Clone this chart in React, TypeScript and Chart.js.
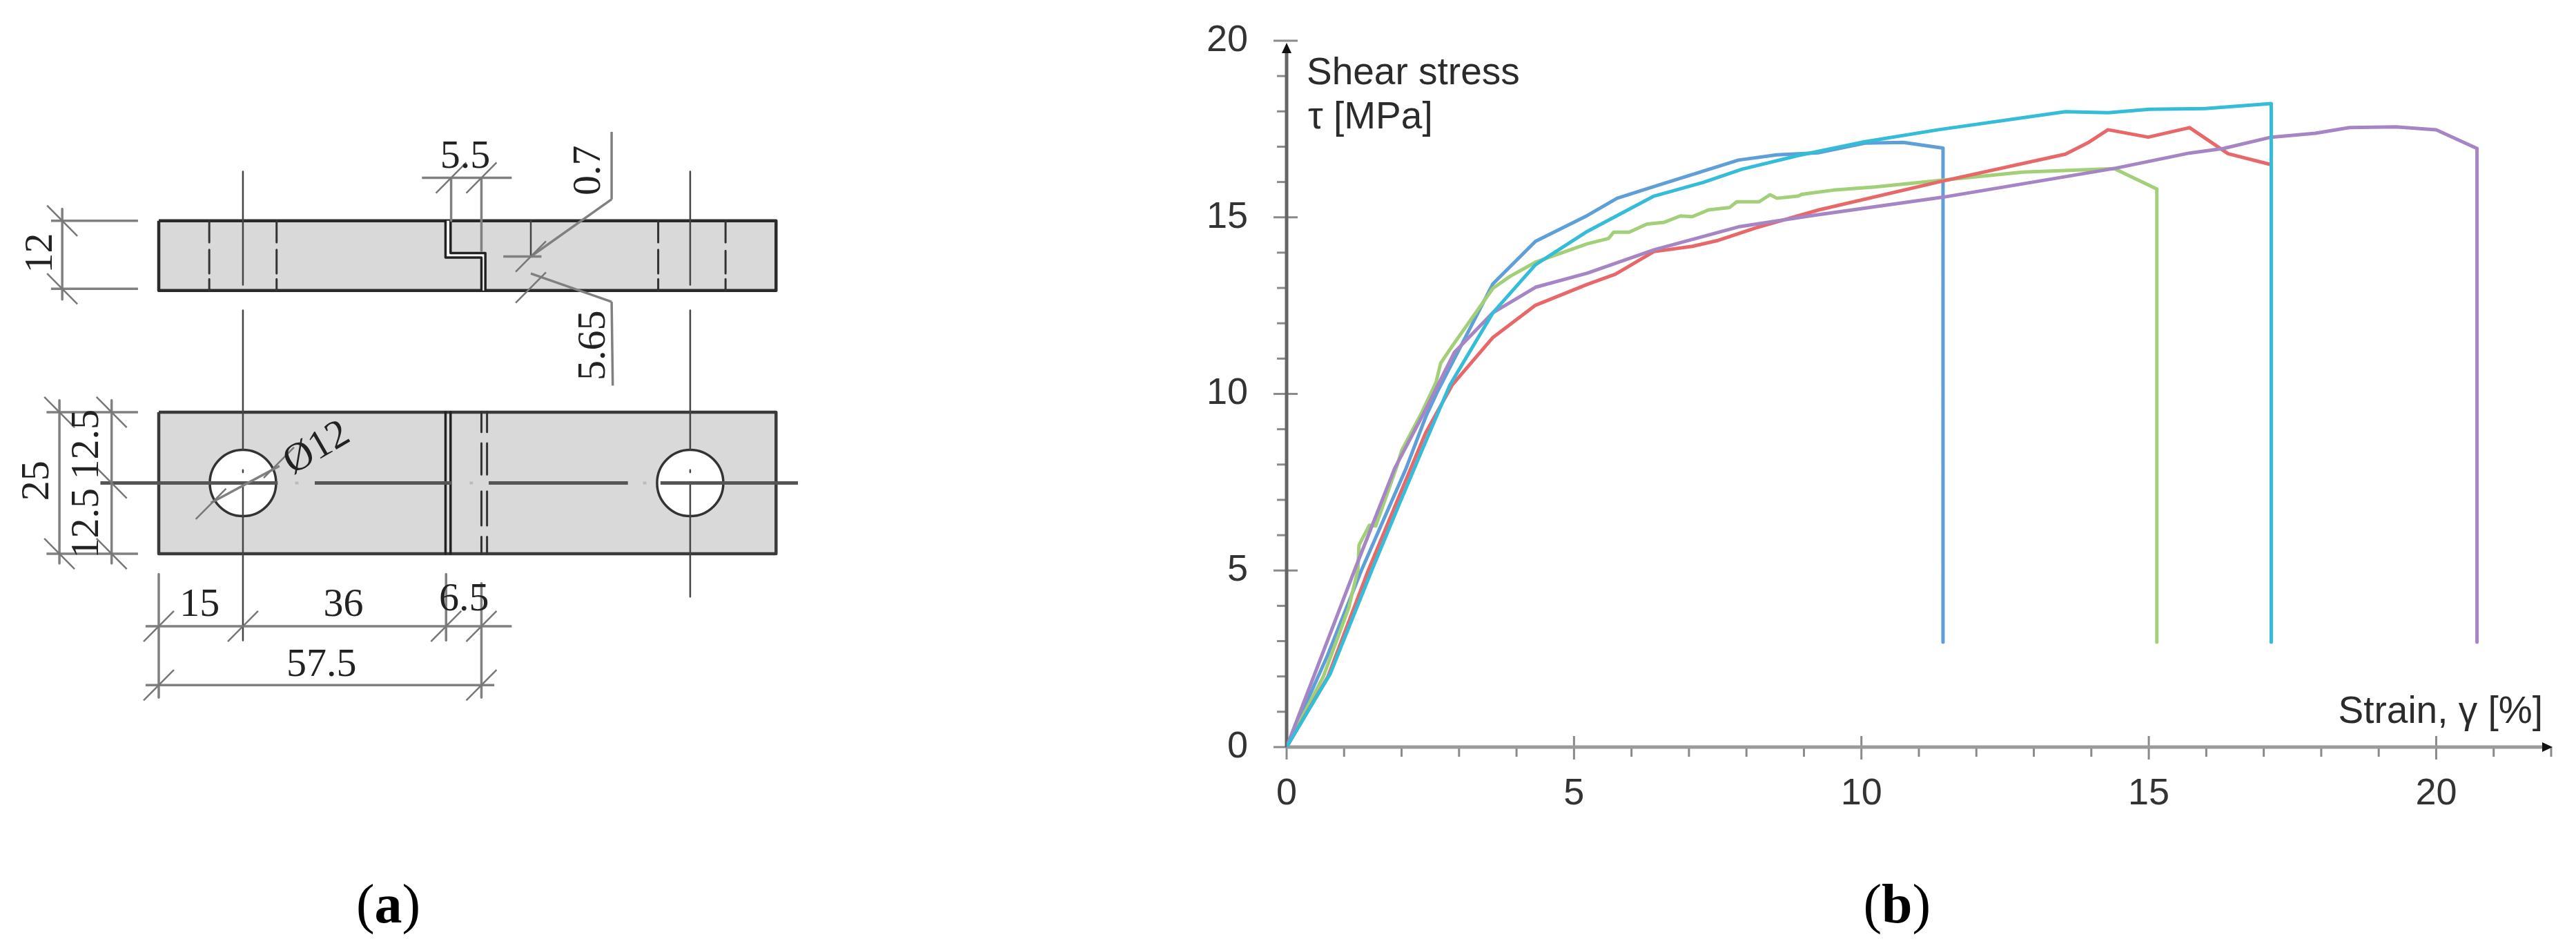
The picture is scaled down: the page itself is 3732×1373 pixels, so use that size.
import React, { useEffect, useRef } from "react";
import { Chart, registerables } from "chart.js";

Chart.register(...registerables);

// ---- Panel (b): stress-strain curves ----
const blueX = [0, 0.7, 1.3, 2.08, 2.42, 2.62, 3.59, 4.33, 5.23, 5.75, 6.45, 7.86, 8.53, 9.26, 10.06, 10.73, 11.42, 11.42];
const blueY = [0, 2.55, 5, 7.9, 9.35, 10.05, 13.12, 14.32, 15.05, 15.54, 15.9, 16.62, 16.77, 16.83, 17.1, 17.12, 16.96, 2.97];
const greenX = [0, 0.64, 1.08, 1.24, 1.26, 1.44, 1.55, 1.92, 2, 2.36, 2.6, 2.68, 2.88, 3.59, 3.89, 4.33, 5.23, 5.6, 5.69, 5.96, 6.27, 6.57, 6.85, 7.06, 7.34, 7.71, 7.83, 8.22, 8.41, 8.53, 8.9, 8.96, 9.51, 10.24, 11.4, 12.81, 14.4, 15.14, 15.14];
const greenY = [0, 2.0, 3.94, 5.02, 5.72, 6.28, 6.26, 7.96, 8.39, 9.5, 10.33, 10.87, 11.35, 12.99, 13.33, 13.73, 14.25, 14.4, 14.58, 14.58, 14.81, 14.86, 15.04, 15.02, 15.21, 15.28, 15.44, 15.44, 15.64, 15.54, 15.6, 15.65, 15.77, 15.86, 16.05, 16.28, 16.38, 15.8, 2.97];
const redX = [0, 0.72, 1.42, 1.98, 2.42, 2.88, 3.59, 4.33, 5.23, 5.72, 6.39, 7.06, 7.49, 8.16, 9.26, 11.34, 13.55, 13.94, 14.29, 14.99, 15.71, 16.38, 17.13];
const redY = [0, 2.0, 5, 7.19, 8.9, 10.25, 11.6, 12.51, 13.1, 13.39, 14.03, 14.18, 14.34, 14.7, 15.21, 16.0, 16.79, 17.11, 17.48, 17.27, 17.54, 16.8, 16.49];
const purpleX = [0, 1.18, 1.88, 2.4, 2.92, 3.59, 4.33, 5.23, 6.39, 7.86, 9.14, 11.42, 13.62, 14.42, 15.71, 16.3, 17.13, 17.9, 18.49, 19.3, 20, 20.71, 20.71];
const purpleY = [0, 5, 7.89, 9.5, 11.18, 12.3, 13.02, 13.42, 14.08, 14.73, 15.05, 15.57, 16.17, 16.39, 16.82, 16.95, 17.27, 17.38, 17.54, 17.56, 17.48, 16.95, 2.97];
const cyanX = [0, 0.76, 1.48, 1.96, 2.38, 2.84, 3.59, 4.33, 5.23, 6.39, 7.25, 7.92, 8.9, 10.06, 11.34, 13.55, 14.29, 15.01, 15.98, 17.13, 17.13];
const cyanY = [0, 2.08, 5, 6.88, 8.5, 10.25, 12.3, 13.66, 14.6, 15.6, 15.99, 16.36, 16.75, 17.14, 17.48, 17.99, 17.96, 18.06, 18.08, 18.22, 2.97];

const xLabelStep = 5;
const yLabelStep = 5;
const yAxisLines = ["Shear stress", "τ [MPa]"];
const xAxisLabel = "Strain, γ [%]";
const panelB = "b";
const panelA = "a";

// ---- Panel (a): specimen drawing, all in millimetres ----
const topPlate = [[0, 46.3], [110, 46.3], [110, 34], [0, 34], [0, 46.3]];
const bottomPlate = [[0, 12.5], [110, 12.5], [110, -12.5], [0, -12.5], [0, 12.5]];
const slitFill = [[51.1, 46.3], [52, 46.3], [52, 40.6], [58.2, 40.6], [58.2, 34], [57.5, 34], [57.5, 39.8], [51.1, 39.8], [51.1, 46.3]];
const holeCentres = [[15, 0], [94.7, 0]];

const plateEdges = [
  [51.1, 46.3, 51.1, 39.8], [51.1, 39.8, 57.5, 39.8], [57.5, 39.8, 57.5, 34],
  [52, 46.3, 52, 40.6], [52, 40.6, 58.2, 40.6], [58.2, 40.6, 58.2, 34],
  [51.1, 12.5, 51.1, -12.5], [52, 12.5, 52, -12.5],
];
const hiddenEdges = [
  [9, 46.3, 9, 42.5], [9, 41.2, 9, 37], [9, 36, 9, 34],
  [21, 46.3, 21, 42.5], [21, 41.2, 21, 37], [21, 36, 21, 34],
  [89, 46.3, 89, 42.5], [89, 41.2, 89, 37], [89, 36, 89, 34],
  [101, 46.3, 101, 42.5], [101, 41, 101, 37], [101, 36, 101, 34],
  [57.5, 12.5, 57.5, 9], [57.5, 7, 57.5, 1.5], [57.5, -1.5, 57.5, -7.5], [57.5, -9.5, 57.5, -12.5],
  [58.5, 12.5, 58.5, 9], [58.5, 7, 58.5, 1.5], [58.5, -1.5, 58.5, -7.5], [58.5, -9.5, 58.5, -12.5],
];
const centreLines = [
  [15, 55, 15, 35], [15, 30.5, 15, 6], [15, 0, 15, -27.8],
  [94.7, 55, 94.7, 35], [94.7, 30.5, 94.7, 6], [94.7, 0, 94.7, -20.1],
  [66.3, 46.3, 66.3, 40], [15, 2.3, 15, 1.9], [94.7, 2.3, 94.7, 1.9],
];
const axisLines = [
  [-10.4, 0, 21.2, 0], [27.8, 0, 52.2, 0], [58.8, 0, 83.6, 0], [89.4, 0, 113.9, 0],
];
const axisDots = [[24.3, 0, 24.9, 0], [55.4, 0, 56, 0], [86.3, 0, 86.9, 0]];
const dimensionLines = [
  [46.9, 53.9, 62.9, 53.9], [57.5, 53.9, 57.5, 46.3], [57.5, 46.3, 57.5, 41],
  [52.1, 53.9, 52.1, 46.3],
  [61.4, 40, 68.2, 40],
  [66.3, 40, 80.7, 50.1], [80.7, 50.1, 80.7, 62],
  [66.3, 37, 80.7, 32], [80.7, 32, 80.9, 17.2],
  [-2.35, -25.3, 62.9, -25.3], [0, -16.1, 0, -37.9], [51.2, -16.1, 51.2, -27.8], [57.5, -17.7, 57.5, -37.9],
  [-2.35, -35.7, 59.8, -35.7],
  [-19.2, 46.3, -3.7, 46.3], [-19.2, 34.3, -3.7, 34.3], [-17.2, 48.4, -17.2, 32.4],
  [-20, 12.5, -3.7, 12.5], [-20, -12.5, -3.7, -12.5],
  [-17.7, 14.6, -17.7, -14.2], [-8.4, 14.6, -8.4, -14.2],
  [9.3, -3.5, 21.5, 3],
];
const slashDown = [[-17.2, 46.3], [-17.2, 34.3], [-17.7, 12.5], [-8.4, 12.5], [-8.4, 0], [-17.7, -12.5], [-8.4, -12.5]];
const slashUp = [[52.1, 53.9], [57.5, 53.9], [0, -25.3], [15, -25.3], [51.2, -25.3], [57.5, -25.3], [0, -35.7], [57.5, -35.7], [66.3, 40], [66.3, 34.5], [9.3, -3.7], [21.4, 3.6]];

const drawingText = ["5.5", "0.7", "5.65", "Ø12", "15", "36", "6.5", "57.5", "12", "25", "12.5", "12.5"];
const drawingTextX = [54.6, 76.7, 77.6, 28.2, 7.3, 32.9, 54.4, 29, -20.9, -21.5, -12.7, -12.7];
const drawingTextY = [57.5, 55.2, 24.3, 6.1, -21.6, -21.6, -20.6, -32.2, 40.6, 0.4, 6.8, -7.1];
const drawingTextAngle = [0, -90, -90, -30, 0, 0, 0, 0, -90, -90, -90, -90];

const pts = (xs: number[], ys: number[]) => xs.map((x, i) => ({ x, y: ys[i] }));
const gap = { x: NaN, y: NaN };
const segs = (list: number[][]) =>
  list.flatMap(([a, b, c, d]) => [{ x: a, y: b }, { x: c, y: d }, gap]);
const poly = (list: number[][]) => list.map(([x, y]) => ({ x, y }));
const slashes = (list: number[][], sx: number) =>
  segs(list.map(([x, y]) => [x - 2.7, y + 2.7 * sx, x + 2.7, y - 2.7 * sx]));

function writeCaption(ctx: any, letter: string, cx: number, baseline: number) {
  ctx.save();
  ctx.fillStyle = "#000";
  ctx.textBaseline = "alphabetic";
  ctx.textAlign = "left";
  const reg = "80px 'Liberation Serif'";
  const bold = "bold 80px 'Liberation Serif'";
  ctx.font = reg;
  const open = ctx.measureText("(").width;
  ctx.font = bold;
  const mid = ctx.measureText(letter).width;
  let x = cx - (open * 2 + mid) / 2;
  ctx.font = reg;
  ctx.fillText("(", x, baseline);
  x += open;
  ctx.font = bold;
  ctx.fillText(letter, x, baseline);
  x += mid;
  ctx.font = reg;
  ctx.fillText(")", x, baseline);
  ctx.restore();
}

const curveAxesPlugin = {
  id: "curveAxes",
  beforeDatasetsDraw(chart: any) {
    const { ctx } = chart;
    const sx = chart.scales.x;
    const sy = chart.scales.y;
    const x0 = sx.getPixelForValue(0);
    const y0 = sy.getPixelForValue(0);
    const xEnd = sx.right + 2;
    const yEnd = sy.top + 3;
    ctx.save();
    ctx.strokeStyle = "#8a8a8a";
    ctx.lineWidth = 3;
    sx.ticks.forEach((t: any) => {
      const p = sx.getPixelForValue(t.value);
      const major = t.value % xLabelStep === 0;
      ctx.beginPath();
      ctx.moveTo(p, major ? y0 - 16 : y0);
      ctx.lineTo(p, y0 + (major ? 18 : 14));
      ctx.stroke();
    });
    sy.ticks.forEach((t: any) => {
      const p = sy.getPixelForValue(t.value);
      const major = t.value % yLabelStep === 0;
      ctx.beginPath();
      ctx.moveTo(x0 - (major ? 19 : 14), p);
      ctx.lineTo(major ? x0 + 16 : x0, p);
      ctx.stroke();
    });
    ctx.strokeStyle = "#9a9a9a";
    ctx.lineWidth = 5;
    ctx.beginPath();
    ctx.moveTo(x0, y0);
    ctx.lineTo(xEnd - 10, y0);
    ctx.stroke();
    ctx.strokeStyle = "#666";
    ctx.lineWidth = 5;
    ctx.beginPath();
    ctx.moveTo(x0, y0);
    ctx.lineTo(x0, yEnd + 10);
    ctx.stroke();
    ctx.fillStyle = "#111";
    ctx.beginPath();
    ctx.moveTo(xEnd, y0);
    ctx.lineTo(xEnd - 15, y0 - 7);
    ctx.lineTo(xEnd - 15, y0 + 7);
    ctx.closePath();
    ctx.fill();
    ctx.beginPath();
    ctx.moveTo(x0, yEnd);
    ctx.lineTo(x0 - 7, yEnd + 15);
    ctx.lineTo(x0 + 7, yEnd + 15);
    ctx.closePath();
    ctx.fill();
    ctx.restore();
  },
  afterDraw(chart: any) {
    const { ctx } = chart;
    const sx = chart.scales.x;
    const sy = chart.scales.y;
    const x0 = sx.getPixelForValue(0);
    const y0 = sy.getPixelForValue(0);
    ctx.save();
    ctx.fillStyle = "#2b2b2b";
    ctx.font = "55px 'Liberation Sans'";
    ctx.textAlign = "left";
    ctx.textBaseline = "alphabetic";
    ctx.fillText(yAxisLines[0], x0 + 29, sy.top + 63);
    ctx.fillText(yAxisLines[1], x0 + 31, sy.top + 127);
    ctx.textAlign = "right";
    ctx.fillText(xAxisLabel, sx.right - 12, y0 - 35);
    ctx.restore();
    writeCaption(ctx, panelB, sx.getPixelForValue(10.62), 1336);
  },
};

const drawingTextPlugin = {
  id: "drawingText",
  afterDraw(chart: any) {
    const { ctx } = chart;
    const sx = chart.scales.x;
    const sy = chart.scales.y;
    ctx.save();
    ctx.fillStyle = "#222";
    ctx.font = "58px 'Liberation Serif'";
    ctx.textAlign = "center";
    ctx.textBaseline = "middle";
    drawingText.forEach((t, i) => {
      ctx.save();
      ctx.translate(sx.getPixelForValue(drawingTextX[i]), sy.getPixelForValue(drawingTextY[i]));
      ctx.rotate((drawingTextAngle[i] * Math.PI) / 180);
      ctx.fillText(t, 0, 0);
      ctx.restore();
    });
    ctx.restore();
    writeCaption(ctx, panelA, sx.getPixelForValue(40.9), 1336);
  },
};

const lineSet = (data: any[], color: string, width: number, extra: any = {}) => ({
  data,
  showLine: true,
  borderColor: color,
  borderWidth: width,
  pointRadius: 0,
  tension: 0,
  fill: false,
  borderJoinStyle: "round",
  ...extra,
});

export default function App() {
  const aRef = useRef<HTMLCanvasElement>(null);
  const bRef = useRef<HTMLCanvasElement>(null);

  useEffect(() => {
    const curves = [
      lineSet(pts(blueX, blueY), "#5d9fd6", 5),
      lineSet(pts(greenX, greenY), "#a3cf78", 5),
      lineSet(pts(redX, redY), "#e8686a", 5),
      lineSet(pts(purpleX, purpleY), "#a585c4", 5),
      lineSet(pts(cyanX, cyanY), "#35bcd8", 5),
    ].map((d, i) => ({ ...d, order: -i }));

    const chartB = new Chart(bRef.current as any, {
      type: "scatter",
      data: { datasets: curves as any },
      options: {
        responsive: false,
        animation: false,
        layout: { autoPadding: false, padding: { top: 59, right: 36, left: 0, bottom: 0 } },
        plugins: { legend: { display: false }, tooltip: { enabled: false } },
        scales: {
          x: {
            type: "linear",
            min: 0,
            max: 22,
            afterFit: (s: any) => { s.height = 291; s.paddingLeft = 0; s.paddingRight = 0; },
            border: { display: false },
            grid: { display: false },
            ticks: {
              stepSize: 1,
              autoSkip: false,
              maxRotation: 0,
              padding: 28,
              color: "#333",
              font: { family: "'Liberation Sans'", size: 54 },
              callback: (v: any) => (v % xLabelStep === 0 ? String(v) : ""),
            },
          },
          y: {
            type: "linear",
            min: 0,
            max: 20,
            afterFit: (s: any) => { s.width = 164; s.paddingTop = 0; s.paddingBottom = 0; },
            border: { display: false },
            grid: { display: false },
            ticks: {
              stepSize: 1,
              autoSkip: false,
              padding: 48,
              color: "#333",
              font: { family: "'Liberation Sans'", size: 54 },
              callback: (v: any) => (v % yLabelStep === 0 ? String(v) : ""),
            },
          },
        },
      } as any,
      plugins: [curveAxesPlugin as any],
    });

    const drawing = [
      lineSet(poly(topPlate), "#2a2a2a", 4.5, { fill: "shape", backgroundColor: "#d9d9d9" }),
      lineSet(poly(bottomPlate), "#3a3a3a", 4.5, { fill: "shape", backgroundColor: "#d9d9d9" }),
      lineSet(poly(slitFill), "rgba(0,0,0,0)", 0, { fill: "shape", backgroundColor: "#ffffff" }),
      { data: poly(holeCentres), showLine: false, pointRadius: 48, pointBackgroundColor: "#ffffff", pointBorderColor: "#333", pointBorderWidth: 3.5 },
      lineSet(segs(plateEdges), "#222", 3.5),
      lineSet(segs(hiddenEdges), "#333", 3),
      lineSet(segs(centreLines), "#444", 2.5),
      lineSet(segs(axisLines), "#555", 5),
      lineSet(segs(axisDots), "#bbbbbb", 4),
      lineSet(segs(dimensionLines), "#808080", 3.5),
      lineSet(slashes(slashDown, 1), "#777", 2.5),
      lineSet(slashes(slashUp, -1), "#777", 2.5),
    ].map((d, i) => ({ ...d, order: -i }));

    const chartA = new Chart(aRef.current as any, {
      type: "scatter",
      data: { datasets: drawing as any },
      options: {
        responsive: false,
        animation: false,
        layout: { autoPadding: false, padding: 0 },
        plugins: { legend: { display: false }, tooltip: { enabled: false } },
        scales: {
          x: { type: "linear", min: -28.29, max: 180.81, display: false },
          y: { type: "linear", min: -82.13, max: 85.3, display: false },
        },
      } as any,
      plugins: [drawingTextPlugin as any],
    });

    return () => {
      chartA.destroy();
      chartB.destroy();
    };
  }, []);

  return (
    <div style={{ position: "absolute", left: 0, top: 0, width: 3732, height: 1373, background: "#fff", overflow: "hidden" }}>
      <canvas ref={aRef} width={1700} height={1373} style={{ position: "absolute", left: 0, top: 0, display: "block" }} />
      <canvas ref={bRef} width={2032} height={1373} style={{ position: "absolute", left: 1700, top: 0, display: "block" }} />
    </div>
  );
}
